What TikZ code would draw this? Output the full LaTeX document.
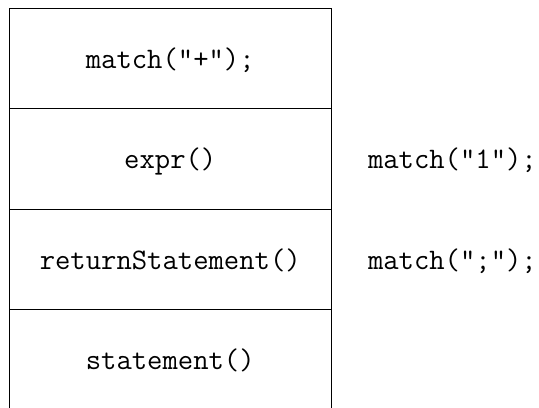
\documentclass[tikz,border=0pt]{standalone}
\usetikzlibrary{positioning}

\begin{document}
\begin{tikzpicture}[x=1pt,y=1pt]
    \tikzstyle{frame} = [rectangle, minimum width=160.75pt, minimum height=50.25pt, inner sep=0pt, outer sep=0pt, text height=12.4pt, text depth=2.5pt]
    \tikzstyle{ann} = [draw=none,fill=none,inner sep=0pt,font=\fontsize{14.9pt}{18pt}\ttfamily, text height=12.4pt, text depth=2.5pt]
    \useasboundingbox (0,0) rectangle (269.5,-203.5);
    \matrix[anchor=north west, inner sep=0pt, outer sep=0pt, row sep=0pt,
        nodes={frame}, font=\fontsize{14.9pt}{18pt}\ttfamily] at (4.75,-4) {
    \node (1) {match("+");}; \\
    \node (2) {expr()}; \\
    \node (3) {returnStatement()}; \\
    \node (4) {statement()}; \\
    };

    \node[ann, right=18.3pt of 2] (5) {match("1");};
    \node[ann, right=18.3pt of 3] (6) {match(";");};

    \draw[line width=0.5pt]  (4.south west) -- (1.north west) -- (1.north east) -- (4.south east);
    \draw[line width=0.5pt]  (1.south west) -- (1.south east);
    \draw[line width=0.5pt]  (2.south west) -- (2.south east);
    \draw[line width=0.5pt]  (3.south west) -- (3.south east);
\end{tikzpicture}
\end{document}
